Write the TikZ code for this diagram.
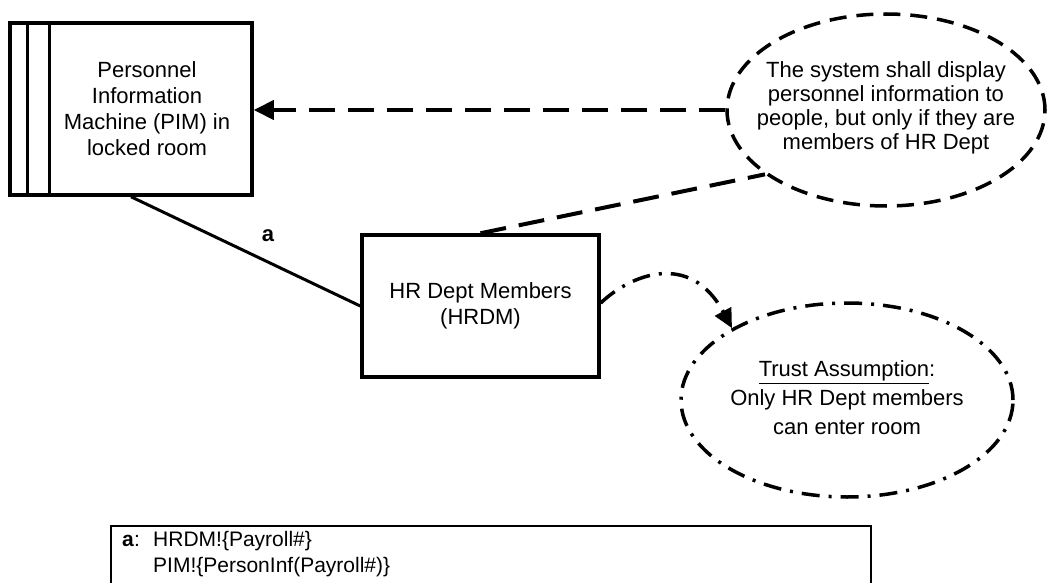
\documentclass[tikz,border=0pt]{standalone}
\usepackage{fontspec}
\setmainfont{Liberation Sans}
\usetikzlibrary{shapes.geometric,arrows.meta}
\begin{document}
\begin{tikzpicture}[x=1pt,y=-1pt,
  box/.style={draw, line width=3.5pt, rectangle, inner sep=0pt, align=center,
    font=\fontsize{22}{26}\selectfont},
  txt/.style={inner sep=0pt, align=center},
  dashline/.style={line width=4pt, dash pattern=on 26pt off 13pt},
  dashdotline/.style={line width=3.5pt, dash pattern=on 18pt off 9pt on 3pt off 9pt},
  bigtip/.style={-{Triangle[length=20pt,width=19pt]}},
  smalltip/.style={-{Triangle[length=19pt,width=18pt]}}
]
\useasboundingbox (0,0) rectangle (1047,583);
\fill[white] (0,0) rectangle (1047,583);
\clip (0,0) rectangle (1047,583);

% PIM machine
\node[box, minimum width=242pt, minimum height=172pt] (pim) at (131,109) {};
\draw[line width=3.5pt] ([xshift=19pt]pim.north west) -- ([xshift=19pt]pim.south west);
\draw[line width=3.5pt] ([xshift=41pt]pim.north west) -- ([xshift=41pt]pim.south west);
\node[txt, font=\fontsize{22}{26}\selectfont] (pimtxt) at (147,109)
  {Personnel\\Information\\Machine (PIM) in\\locked room};

% HR dept members
\node[box, minimum width=237pt, minimum height=142pt] (hrdm) at (480.5,306)
  {HR Dept Members\\(HRDM)};

% requirement ellipse
\node[ellipse, draw, line width=3.5pt, dash pattern=on 17pt off 10pt,
  minimum width=318pt, minimum height=192pt, inner sep=0pt] (req) at (886,110) {};
\node[txt, font=\fontsize{22}{24}\selectfont] (reqtxt) at (886,108)
  {The system shall display\\personnel information to\\people, but only if they are\\members of HR Dept};

% trust assumption ellipse
\node[ellipse, draw, dashdotline, minimum width=332pt, minimum height=194pt,
  inner sep=0pt] (trust) at (847,400) {};
\node[txt, font=\fontsize{22}{29}\selectfont] (trusttxt) at (847,398)
  {\underline{Trust Assumption}:\\Only HR Dept members\\can enter room};

% connectors
\draw[dashline, bigtip] (req.west) -- (req.west -| pim.east);
\draw[dashline] (hrdm.north) -- (req.208);
\draw[line width=3pt] (pim.south) -- (hrdm.west);
\node[font=\bfseries\fontsize{22}{26}\selectfont, inner sep=0pt] (alab) at (268,236) {a};
\draw[dashdotline, smalltip] ([yshift=3pt]hrdm.east) .. controls (630,275) and (690,250) .. (trust.148);

% phenomena table (its lower edge lies below the picture)
\node[anchor=north west, inner xsep=11pt, inner ysep=5pt,
  text width=738pt, align=left, font=\fontsize{21}{26}\selectfont] (tbl) at (111,526)
  {\makebox[31pt][l]{\textbf{a}:}HRDM!\{Payroll\#\}\\
   \hspace*{31pt}PIM!\{PersonInf(Payroll\#)\}};
\draw[line width=2pt] ([yshift=-30pt]tbl.south west) -- (tbl.north west)
  -- (tbl.north east) -- ([yshift=-30pt]tbl.south east);
\end{tikzpicture}
\end{document}
